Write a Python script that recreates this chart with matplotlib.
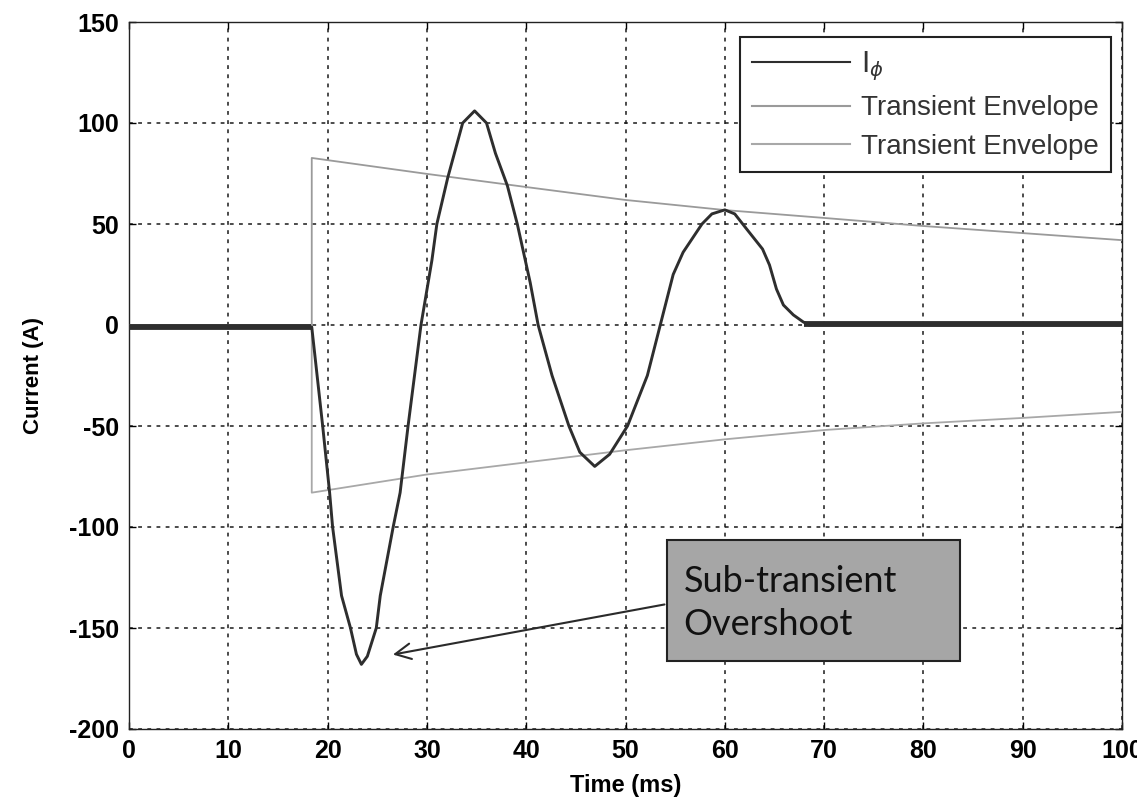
import matplotlib.pyplot as plt
from matplotlib.patches import Rectangle

# phase current, read point by point (ms, A)
t_ms = [0, 18.3, 18.4, 19.5, 20.2, 20.5, 21.4, 22.3, 22.9, 23.4, 24.0, 24.9,
        25.3, 26.6, 27.3, 28.1, 29.4, 30.5, 31.0, 32.1, 33.6, 34.8, 36.0,
        36.9, 38.1, 39.1, 40.4, 41.2, 42.6, 44.3, 45.4, 46.9, 48.4, 50.2,
        52.2, 53.5, 54.8, 55.8, 57.7, 58.7, 60.0, 61.0, 62.2, 63.8, 64.5,
        65.2, 65.9, 66.9, 67.9, 68.5, 100]
i_phi = [-1, -1, -1, -50, -83, -100, -134, -150, -163, -168, -164, -150,
         -134, -100, -83, -50, 0, 32, 50, 73, 100, 106, 100,
         85, 69, 50, 21, 0, -25, -50, -63, -70, -64, -50,
         -25, 0, 25, 36, 50, 55, 57, 55, 47.5, 37.6, 29.7,
         17.8, 9.9, 5, 1.5, 0, 0]

# flat, noisy stretches before the fault and after it clears
base_pre_t = [0, 18.3]
base_pre_i = [-1, -1]
base_post_t = [68.0, 100]
base_post_i = [0.5, 0.5]

# transient envelopes
env_t = [0, 18.4, 18.4, 30, 40, 50, 60, 70, 80, 90, 100]
env_upper = [0, 0, 82.7, 74.8, 68.3, 61.9, 56.9, 53, 49, 45.5, 42]
env_lower = [0, 0, -83, -74, -68, -62, -56.6, -52, -48.7, -46, -43]

xticks = [0, 10, 20, 30, 40, 50, 60, 70, 80, 90, 100]
yticks = [-200, -150, -100, -50, 0, 50, 100, 150]

plt.rcParams['font.family'] = ['Liberation Sans', 'DejaVu Sans']
plt.rcParams['axes.unicode_minus'] = False

fig = plt.figure(figsize=(11.37, 8), dpi=100)
ax = fig.add_axes([0.1135, 0.08875, 0.8733, 0.88375])

sig, = ax.plot(t_ms, i_phi, color='#2e2e2e', linewidth=2.1, label=r'$\mathrm{I}_{\phi}$', zorder=4)
ax.plot(base_pre_t, base_pre_i, color='#2e2e2e', linewidth=4.2, solid_capstyle='butt', zorder=4)
ax.plot(base_post_t, base_post_i, color='#2e2e2e', linewidth=4.2, solid_capstyle='butt', zorder=4)
up, = ax.plot(env_t, env_upper, color='#9a9a9a', linewidth=1.3, label='Transient Envelope', zorder=3)
lo, = ax.plot(env_t, env_lower, color='#a8a8a8', linewidth=1.3, label='Transient Envelope', zorder=3)

ax.set_xlim(0, 100)
ax.set_ylim(-200, 150)
ax.set_xticks(xticks)
ax.set_yticks(yticks)
ax.tick_params(direction='in', length=5, width=1, top=True, right=True,
               labelsize=18, pad=7)
for lab in ax.get_xticklabels() + ax.get_yticklabels():
    lab.set_fontweight('bold')
ax.grid(True, color='#1a1a1a', linestyle=(0, (2.5, 3.5)), linewidth=1.1)
for s in ax.spines.values():
    s.set_linewidth(1.0)
    s.set_color('#222222')

ax.set_xlabel('Time (ms)', fontsize=17, fontweight='bold', labelpad=8)
ax.set_ylabel('Current (A)', fontsize=16, fontweight='bold', labelpad=18)

leg = ax.legend(handles=[sig, up, lo], loc='upper right', bbox_to_anchor=(0.989, 0.979),
                borderaxespad=0, fontsize=20, frameon=True, fancybox=False,
                framealpha=1, edgecolor='#222222', handlelength=3.5,
                handletextpad=0.4, labelspacing=0.45, borderpad=0.45)
leg.get_frame().set_linewidth(1.5)
for h in leg.legend_handles:
    h.set_linewidth(1.5)
for txt in leg.get_texts():
    txt.set_color('#333333')

# callout box with arrow pointing at the first trough
ax.add_patch(Rectangle((0.542, 0.096), 0.295, 0.171, transform=ax.transAxes,
                       facecolor='#a6a6a6', edgecolor='#222222', linewidth=1.5, zorder=6))
ax.text(0.5585, 0.178, 'Sub-transient\nOvershoot', transform=ax.transAxes,
        fontsize=26, family=['Lato', 'DejaVu Sans'], color='#111111',
        va='center', ha='left', linespacing=1.35, zorder=7)
ax.annotate('', xy=(26.3, -163.4), xytext=(54.2, -138.1),
            arrowprops=dict(arrowstyle='->', color='#2a2a2a', linewidth=1.5,
                            mutation_scale=28), zorder=5)

plt.savefig('out.png', dpi=100)
